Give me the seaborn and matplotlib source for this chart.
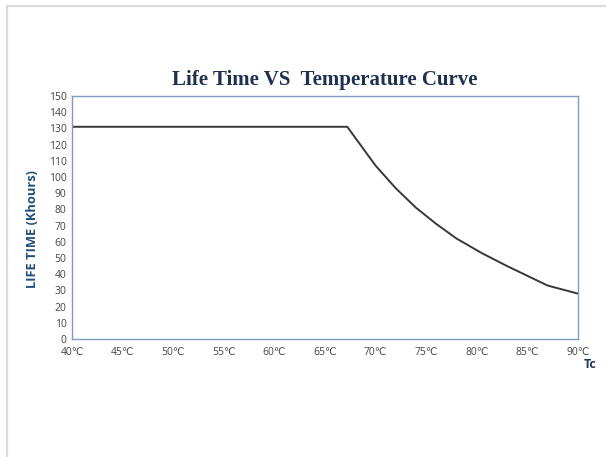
import matplotlib
matplotlib.use("Agg")
import matplotlib.pyplot as plt
import seaborn as sns
import pandas as pd
from matplotlib.lines import Line2D

# Data
temps = [40, 67.2, 70, 72, 74, 76, 78, 80.5, 83, 85, 87, 90]
life_khours = [131, 131, 107, 93, 81, 71, 62, 53, 45, 39, 33, 28]
xtick_vals = [40, 45, 50, 55, 60, 65, 70, 75, 80, 85, 90]
xtick_labels = [f"{v}℃" for v in xtick_vals]
ytick_vals = list(range(0, 151, 10))

df = pd.DataFrame({"temp": temps, "life": life_khours})

sns.set_theme(style="white")
plt.rcParams['font.family'] = ['Open Sans', 'DejaVu Sans']

fig = plt.figure(figsize=(6.06, 4.57), dpi=100)
ax = fig.add_axes([72/606, 1-339/457, (578-72)/606, (339-96)/457])

sns.lineplot(data=df, x="temp", y="life", ax=ax, color="#383838", linewidth=1.4, sort=False)

ax.set_xlim(40, 90)
ax.set_ylim(0, 150)
ax.set_xticks(xtick_vals)
ax.set_xticklabels(xtick_labels, fontsize=7.5, color="#454545")
ax.set_yticks(ytick_vals)
ax.set_yticklabels([str(v) for v in ytick_vals], fontsize=7.5, color="#454545")
ax.tick_params(axis="both", length=0, pad=4)
ax.tick_params(axis="x", pad=6)
ax.set_xlabel("")
ax.set_ylabel("")
for s in ax.spines.values():
    s.set_color("#7F9BBD")
    s.set_linewidth(1.0)

fig.text(33/606, 1-229/457, "LIFE TIME (Khours)", rotation=90, ha="center", va="center",
         fontsize=9.3, fontweight="bold", color="#1F4E79")
fig.text(325/606, 1-80/457, "Life Time VS  Temperature Curve", ha="center", va="center",
         fontsize=15, fontweight="bold", color="#1F3050", family="Liberation Serif")
fig.text(590/606, 1-365/457, "Tc", ha="center", va="center", fontsize=9,
         fontweight="bold", color="#1F3864")

# light gray frame lines at top and left
fig.add_artist(Line2D([6.5/606, 1], [1-5.5/457, 1-5.5/457], color="#DCDCDC", linewidth=1.6, transform=fig.transFigure))
fig.add_artist(Line2D([6.5/606, 6.5/606], [0, 1-5.5/457], color="#DCDCDC", linewidth=1.6, transform=fig.transFigure))

fig.savefig("out.png", dpi=100)
